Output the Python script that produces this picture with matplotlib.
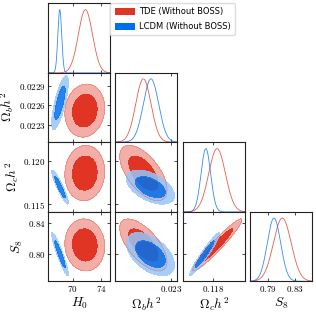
import numpy as np
import matplotlib.pyplot as plt
from matplotlib.patches import Patch
from matplotlib.ticker import FixedLocator, FixedFormatter

plt.rcParams['mathtext.fontset'] = 'cm'

# parametros e limites dos eixos
labels = [r'$H_0$', r'$\Omega_b h^2$', r'$\Omega_c h^2$', r'$S_8$']
lims = [(66.55, 75.3), (0.02204, 0.02310), (0.11411, 0.12212), (0.764, 0.855)]

x_ticks = [[70, 74], [0.023], [0.118], [0.79, 0.83]]
x_ticklabels = [['70', '74'], ['0.023'], ['0.118'], ['0.79', '0.83']]
y_ticks = [[], [0.0223, 0.0226, 0.0229], [0.115, 0.120], [0.80, 0.84]]
y_ticklabels = [[], ['0.0223', '0.0226', '0.0229'], ['0.115', '0.120'], ['0.80', '0.84']]

models = ['TDE (Without BOSS)', 'LCDM (Without BOSS)']
colors = ['#E03424', '#006FED']

# 1D: pico e largura
tde_peak = [71.79, 0.02252, 0.11855, 0.8114]
tde_width = [1.0, 0.00013, 0.00108, 0.013]
lcdm_peak = [68.17, 0.02265, 0.1171, 0.7992]
lcdm_width = [0.27, 0.00013, 0.00062, 0.0098]

# 2D: centro, largura e correlacao
tde_mean = [71.7, 0.02252, 0.11858, 0.8115]
tde_sig = [1.15, 0.000165, 0.00130, 0.0139]
tde_rho = [[1, 0.1, 0.05, -0.05],
           [0.1, 1, -0.6, -0.65],
           [0.05, -0.6, 1, 0.96],
           [-0.05, -0.65, 0.96, 1]]
lcdm_mean = [68.2, 0.02264, 0.11696, 0.7995]
lcdm_sig = [0.48, 0.000168, 0.00080, 0.0115]
lcdm_rho = [[1, 0.75, -0.92, -0.93],
            [0.75, 1, -0.5, -0.5],
            [-0.92, -0.5, 1, 0.96],
            [-0.93, -0.5, 0.96, 1]]

peaks = [tde_peak, lcdm_peak]
widths = [tde_width, lcdm_width]
means = [tde_mean, lcdm_mean]
sigs = [tde_sig, lcdm_sig]
rhos = [tde_rho, lcdm_rho]
alphas = [1.0, 0.85]

# posicoes dos paineis em pixels
W = 316.0
col_left = [48.3, 115.3, 182.7, 250.0]
col_w = 62.0
row_top = [3.3, 72.5, 142.3, 211.7]
row_h = 69.6

fig = plt.figure(figsize=(3.16, 3.16), dpi=100)


def pale(c):
    rgb = np.array(plt.matplotlib.colors.to_rgb(c))
    return tuple(rgb * 0.4 + 0.6)


def style(ax, i, j, diag):
    ax.set_xlim(lims[j])
    ax.xaxis.set_major_locator(FixedLocator(x_ticks[j]))
    ax.xaxis.set_major_formatter(FixedFormatter(['$%s$' % t for t in x_ticklabels[j]]))
    if diag:
        ax.set_ylim(0, 1.1)
        ax.set_yticks([])
    else:
        ax.set_ylim(lims[i])
        ax.yaxis.set_major_locator(FixedLocator(y_ticks[i]))
        ax.yaxis.set_major_formatter(FixedFormatter(['$%s$' % t for t in y_ticklabels[i]]))
    ax.tick_params(direction='in', length=2.5, width=0.5, labelsize=6.5, pad=2,
                   top=True, right=not diag)
    if i < 3:
        ax.tick_params(labelbottom=False)
    else:
        ax.set_xlabel(labels[j], fontsize=9.5, labelpad=1)
    if j > 0 or diag:
        ax.tick_params(labelleft=False)
    else:
        ax.set_ylabel(labels[i], fontsize=9.5, labelpad=2)
    for s in ax.spines.values():
        s.set_linewidth(0.8)
        s.set_color('#222222')


for i in range(4):
    for j in range(i + 1):
        ax = fig.add_axes([col_left[j] / W, 1 - (row_top[i] + row_h) / W,
                           col_w / W, row_h / W])
        if i == j:
            x = np.linspace(lims[i][0], lims[i][1], 400)
            for k in range(2):
                y = np.exp(-0.5 * ((x - peaks[k][i]) / widths[k][i]) ** 2)
                ax.plot(x, y, color=colors[k], lw=0.6, alpha=0.8)
        else:
            x = np.linspace(lims[j][0], lims[j][1], 300)
            y = np.linspace(lims[i][0], lims[i][1], 300)
            X, Y = np.meshgrid(x, y)
            for k in range(2):
                dx = (X - means[k][j]) / sigs[k][j]
                dy = (Y - means[k][i]) / sigs[k][i]
                r = rhos[k][i][j]
                Z = np.exp(-0.5 * (dx ** 2 - 2 * r * dx * dy + dy ** 2) / (1 - r ** 2))
                cols = [pale(colors[k]), colors[k]]
                ax.contourf(X, Y, Z, levels=[0.05, 0.32, 1.1], colors=cols, alpha=alphas[k])
                if k == 0:
                    ax.contour(X, Y, Z, levels=[0.05], colors=[colors[k]],
                               linewidths=0.3, alpha=0.6)
        style(ax, i, j, i == j)

handles = [Patch(facecolor=c, edgecolor='none') for c in colors]
fig.legend(handles, models, loc='upper left', bbox_to_anchor=(110.5 / W, 1 - 3.3 / W),
           fontsize=6, handlelength=2.4, handleheight=0.85, handletextpad=0.5,
           labelspacing=0.7, borderpad=0.5, borderaxespad=0, frameon=True,
           edgecolor='#dddddd', framealpha=1)

fig.savefig('out.png', dpi=100)
